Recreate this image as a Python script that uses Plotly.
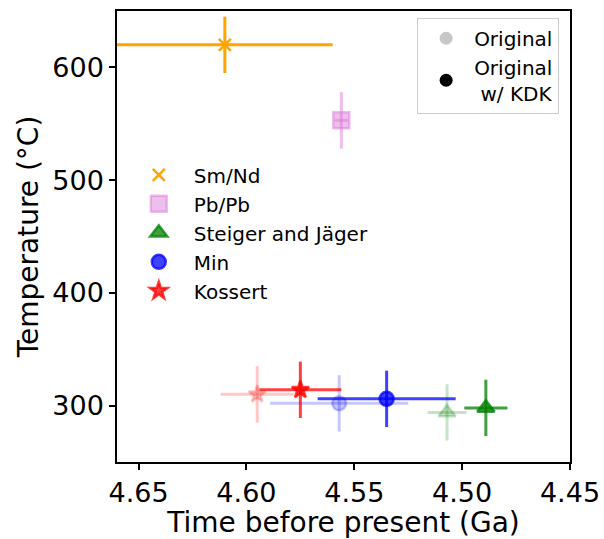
import plotly.graph_objects as go

# Age / temperature estimates (time in Ga, temperature in °C)
names = ["Sm/Nd", "Pb/Pb", "Steiger and Jäger", "Min", "Kossert"]
colors = ["#FFA500", "#DA70D6", "#008000", "#0000FF", "#FF0000"]
symbols = ["x-thin-open", "square", "triangle-up", "circle", "star"]
sizes = [12, 16, 15, 14, 13]

# Values using the original decay constants (None = not available)
orig_time = [None, None, 4.507, 4.557, 4.595]
orig_time_err = [None, None, 0.009, 0.032, 0.017]
orig_temp = [None, None, 294, 302, 310]
orig_temp_err = [None, None, 25, 25, 25]

# Values with the KDK correction applied
kdk_time = [4.610, 4.556, 4.489, 4.535, 4.575]
kdk_time_err = [0.050, 0.003, 0.010, 0.032, 0.019]
kdk_temp = [620, 553, 298, 306, 314]
kdk_temp_err = [25, 25, 25, 25, 25]
kdk_alpha = [1.0, 0.45, 0.75, 0.75, 0.75]
orig_alpha = 0.22

FONT = "DejaVu Sans"


def rgba(hex_color, a):
    h = hex_color.lstrip("#")
    r, g, b = int(h[0:2], 16), int(h[2:4], 16), int(h[4:6], 16)
    return f"rgba({r},{g},{b},{a})"


fig = go.Figure()

for i, name in enumerate(names):
    if orig_time[i] is not None:
        c = rgba(colors[i], orig_alpha)
        fig.add_trace(go.Scatter(
            x=[orig_time[i]], y=[orig_temp[i]], mode="markers",
            marker=dict(symbol=symbols[i], size=sizes[i], color=c,
                        line=dict(color=c, width=2.5)),
            error_x=dict(type="data", array=[orig_time_err[i]], color=c,
                         thickness=3, width=0),
            error_y=dict(type="data", array=[orig_temp_err[i]], color=c,
                         thickness=3, width=0),
            showlegend=False, hoverinfo="skip",
        ))

for i, name in enumerate(names):
    c = rgba(colors[i], kdk_alpha[i])
    fig.add_trace(go.Scatter(
        x=[kdk_time[i]], y=[kdk_temp[i]], mode="markers", name=name,
        marker=dict(symbol=symbols[i], size=sizes[i], color=c,
                    line=dict(color=c, width=2.5)),
        error_x=dict(type="data", array=[kdk_time_err[i]], color=c,
                     thickness=3, width=0),
        error_y=dict(type="data", array=[kdk_temp_err[i]], color=c,
                     thickness=3, width=0),
        legend="legend",
    ))

# Key for the two kinds of estimates
fig.add_trace(go.Scatter(
    x=[None], y=[None], mode="markers", name="Original",
    marker=dict(symbol="circle", size=13, color="rgba(0,0,0,0.22)"),
    legend="legend2",
))
fig.add_trace(go.Scatter(
    x=[None], y=[None], mode="markers", name="Original<br> w/ KDK",
    marker=dict(symbol="circle", size=13, color="black"),
    legend="legend2",
))

axis_common = dict(
    showline=True, linecolor="black", linewidth=1.5, mirror=True,
    ticks="outside", ticklen=6, tickwidth=1.5, tickcolor="black",
    showgrid=False, zeroline=False, automargin=False,
    tickfont=dict(family=FONT, size=27, color="black"),
)

fig.update_layout(
    width=604, height=539,
    margin=dict(l=117, r=34, t=11, b=77),
    paper_bgcolor="white", plot_bgcolor="white",
    font=dict(family=FONT, color="black"),
    xaxis=dict(
        range=[4.66, 4.45], tickvals=[4.65, 4.60, 4.55, 4.50, 4.45],
        ticktext=["4.65", "4.60", "4.55", "4.50", "4.45"],
        title=dict(text="Time before present (Ga)",
                   font=dict(family=FONT, size=28), standoff=4),
        **axis_common,
    ),
    yaxis=dict(
        range=[250, 650], tickvals=[300, 400, 500, 600],
        title=dict(text="Temperature (°C)",
                   font=dict(family=FONT, size=28), standoff=6),
        **axis_common,
    ),
    legend=dict(
        x=0.015, y=0.68, xanchor="left", yanchor="top",
        bgcolor="rgba(255,255,255,0)", borderwidth=0,
        font=dict(family=FONT, size=20),
        tracegroupgap=0, itemwidth=60,
    ),
    legend2=dict(
        x=0.976, y=0.985, xanchor="right", yanchor="top",
        bgcolor="white", bordercolor="#cccccc", borderwidth=1,
        font=dict(family=FONT, size=20), itemwidth=46,
    ),
)

fig.write_html("out.html")
